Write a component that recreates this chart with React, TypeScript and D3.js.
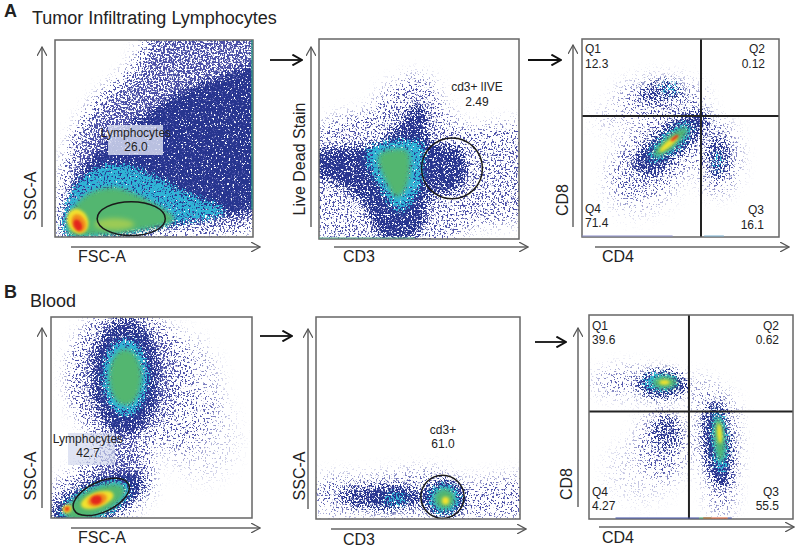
import React from "react";
import * as d3 from "d3";

type Blob = { e?: number[]; p?: number[][]; d?: number };
const E = (cx: number, cy: number, rx: number, ry: number, a = 0, d = 1): Blob => ({ e: [cx, cy, rx, ry, a], d });
const P = (p: number[][], d = 1): Blob => ({ p, d });

// Gated populations in percent of each axis (x, y).
const a1Sparse = [P([[5, 0], [6, 30], [12, 52], [24, 70], [40, 84], [52, 104], [104, 104], [104, 10], [60, 3]], 0.7)];
const a1Blue = [P([[6, 2], [8, 20], [15, 36], [28, 49], [42, 60], [60, 72], [80, 80], [104, 86], [104, 17], [75, 10], [40, 3]], 1)];
const a1Cyan = [P([[5, 2], [7, 19], [15, 31], [30, 37], [46, 33], [65, 23], [86, 13], [60, 7], [30, 1]], 0.95)];
const a1Green = [P([[7, 2], [9, 14], [17, 22], [30, 25], [46, 19], [60, 9], [40, 3], [20, 1]])];
const a1Lime = [E(30, 6.5, 10, 3, 0)];
const a1Yellow = [E(11.5, 8, 5.2, 6.5, 25)];
const a1Orange = [E(12, 7, 3.4, 4.8, 25)];
const a1Red = [E(11.5, 6, 2, 3, 25)];

const a2Sparse = [P([[-3, 50], [10, 60], [25, 62], [35, 75], [53, 80], [62, 65], [72, 55], [104, 55], [104, 12], [78, 8], [60, -2], [5, -2], [-3, 20]], 0.36)];
const a2Blue = [P([[-3, 43], [15, 46], [30, 48], [40, 58], [49, 68], [54, 63], [55, 50], [62, 47], [70, 46], [74, 35], [69, 24], [56, 22], [52, 6], [45, 0], [30, 2], [22, 18], [8, 28], [-3, 32]], 0.92)];
const a2Cyan = [P([[24, 44], [40, 49], [51, 48], [50, 26], [41, 14], [31, 25]])];
const a2Green = [P([[30, 42], [44, 44], [44, 27], [39, 21], [33, 30]])];

const a3Sparse = [E(40, 70, 22, 10, 0, 0.26), E(40, 44, 30, 15, 38, 0.3), E(32, 27, 20, 14, 30, 0.14), E(69, 40, 10, 18, 0, 0.32), E(20, 60, 14, 8, 0, 0.1)];
const a3Blue = [E(40, 73, 11, 6, 10, 0.56), E(45, 48, 23, 8, 38, 0.82), E(35, 37, 9, 7, 0, 0.5), E(69, 40, 5.5, 11, 0, 0.62)];
const a3Cyan = [E(45, 48, 14, 5, 40, 0.8), E(69, 38, 2.5, 5, 0, 0.5), E(44, 75, 5, 3, 0, 0.4)];
const a3Green = [E(45, 48, 11, 3, 40)];
const a3Yellow = [E(44, 47, 6, 1.5, 40)];
const a3Red = [E(47, 50, 2.4, 0.7, 40)];

const b1Sparse = [E(37, 70, 27, 33, 0, 0.5), E(62, 62, 22, 30, 0, 0.18), E(35, 28, 13, 18, 0, 0.48), E(24, 12, 27, 15, 25, 0.48), E(75, 40, 18, 22, 0, 0.09)];
const b1Blue = [E(37, 70, 17, 29, 0, 0.88), E(23, 9, 25, 9.5, 25)];
const b1Cyan = [E(37, 70, 11, 19, 0), E(22, 8, 19, 8, 25)];
const b1Green = [E(37, 70, 8, 14, 0), E(22, 8, 16, 6.5, 25)];
const b1Yellow = [E(23, 9, 8.5, 3.8, 20), E(8, 4.5, 2.4, 2, 30)];
const b1Orange = [E(23, 9, 5, 3, 20), E(8, 4.5, 1.5, 1.2, 30)];
const b1Red = [E(22.5, 9, 2.8, 2.2, 15), E(8, 4.5, 0.9, 0.8, 30)];

const b2Sparse = [P([[0, 18], [25, 20], [60, 23], [70, 18], [104, 19], [104, 3], [60, 1], [25, 3], [0, 5]], 0.3)];
const b2Blue = [E(32, 11, 21, 6, 0, 0.72), E(63, 10.5, 10.5, 8.8, 0), E(37, 11, 12, 5, 0, 0.95)];
const b2Cyan = [E(39, 10, 6, 3, 0, 0.7), E(63, 10, 7.5, 7, 0)];
const b2Green = [E(63, 10, 5, 5, 0)];
const b2Yellow = [E(63.5, 9, 1.8, 2, 0)];

const b3Sparse = [E(22, 67, 20, 6, 0, 0.3), E(60, 58, 15, 7, -40, 0.22), E(36, 37, 11, 17, 0, 0.3), E(26, 24, 18, 16, 0, 0.08), E(65, 15, 5, 14, 0, 0.36), E(63, 37, 9, 20, 5, 0.4)];
const b3Blue = [E(36, 66, 12, 6.5, 0, 0.92), E(38, 42, 7, 9, 0, 0.55), E(63, 36, 6.5, 21, 6, 0.92)];
const b3Cyan = [E(35, 67, 8, 4, 0), E(64, 38, 3.5, 15, 4)];
const b3Green = [E(37, 67, 6, 3, 0), E(64, 39, 2.4, 11, 4)];
const b3Yellow = [E(37, 67, 2.6, 1.3, 0), E(64, 42, 1.2, 5, 4)];

// Gates: [cx, cy, rx, ry, angle] in percent of the axes
const a1Gate = [38.5, 9.3, 17.2, 8.6, 0];
const a2Gate = [66.5, 35.3, 15.2, 15.2, 0];
const b1Gate = [25, 10.5, 15, 7.5, 25];
const b2Gate = [62, 11, 10.6, 10.7, 0];
// Quadrant dividers: [x, y] in percent
const a3Quad = [60.4, 61.1];
const b3Quad = [49, 52.7];

// Events piled on the plot edge: [from, to, colour] along the bottom or the right
const a2Strip = [[0, 48, "#5aa58a"]];
const a3Strip = [[0, 46, "#8a8dc8"], [62, 72, "#7ab0d0"]];
const b3Strip = [[13, 49, "#3a4aa0"], [49, 54, "#3a4aa0"], [54, 60, "#38a060"], [56, 68, "#d8562a"], [68, 70, "#3a4aa0"]];
const a1Edge = [[14, 100, "#2f8f86"]];

const panels = [
  { box: [55, 40, 253, 237], layers: { sparse: a1Sparse, blue: a1Blue, cyan: a1Cyan, green: a1Green, lime: a1Lime, yellow: a1Yellow, orange: a1Orange, red: a1Red }, gate: a1Gate, edge: a1Edge },
  { box: [319, 39, 519, 239], layers: { sparse: a2Sparse, blue: a2Blue, cyan: a2Cyan, green: a2Green }, gate: a2Gate, strip: a2Strip },
  { box: [582, 39, 779, 237], layers: { sparse: a3Sparse, blue: a3Blue, cyan: a3Cyan, green: a3Green, yellow: a3Yellow, red: a3Red }, quad: a3Quad, strip: a3Strip },
  { box: [51, 317, 252, 518], layers: { sparse: b1Sparse, blue: b1Blue, cyan: b1Cyan, green: b1Green, yellow: b1Yellow, orange: b1Orange, red: b1Red }, gate: b1Gate },
  { box: [316, 317, 520, 519], layers: { sparse: b2Sparse, blue: b2Blue, cyan: b2Cyan, green: b2Green, yellow: b2Yellow }, gate: b2Gate },
  { box: [589, 315, 793, 519], layers: { sparse: b3Sparse, blue: b3Blue, cyan: b3Cyan, green: b3Green, yellow: b3Yellow }, quad: b3Quad, strip: b3Strip },
];

const grayArrows = [
  [42, 227, 42, 47], [71, 247, 260, 247], [311, 227, 311, 47], [334, 247, 528, 247], [573, 227, 573, 45], [595, 247, 789, 247],
  [42, 508, 42, 328], [71, 528, 260, 528], [308, 509, 308, 329], [331, 529, 526, 529], [578, 507, 578, 328], [599, 527, 794, 527],
];
const blackArrows = [[270, 60, 302, 60], [528, 60, 561, 60], [260, 336, 292, 336], [535, 342, 566, 342]];

const axisLabels: [string, number, number, boolean][] = [
  ["FSC-A", 78, 262, false], ["CD3", 343, 262, false], ["CD4", 602, 262, false],
  ["FSC-A", 78, 543, false], ["CD3", 343, 545, false], ["CD4", 602, 543, false],
  ["SSC-A", 36, 196, true], ["Live Dead Stain", 305, 159, true], ["CD8", 568, 200, true],
  ["SSC-A", 36, 476, true], ["SSC-A", 305, 476, true], ["CD8", 572, 484, true],
];
const startLabels: [string, number, number][] = [
  ["Q1", 585, 53], ["12.3", 585, 68], ["Q4", 585, 213], ["71.4", 585, 227],
  ["Q1", 592, 330], ["39.6", 592, 344], ["Q4", 592, 496], ["4.27", 592, 510],
];
const endLabels: [string, number, number][] = [
  ["Q2", 765, 53], ["0.12", 765, 68], ["Q3", 764, 214], ["16.1", 764, 229],
  ["Q2", 779, 330], ["0.62", 779, 344], ["Q3", 779, 496], ["55.5", 779, 510],
];
const midLabels: [string, number, number][] = [
  ["Lymphocytes", 136, 137], ["26.0", 136, 151], ["cd3+ lIVE", 477, 91], ["2.49", 477, 106],
  ["Lymphocytes", 88, 443], ["42.7", 88, 457], ["cd3+", 443, 434], ["61.0", 443, 448],
];
const labelBoxes = [[108, 125, 55, 30, 0.85], [68, 433, 47, 32, 0.7]];

const colors: Record<string, string> = {
  sparse: "#4b50a8", blue: "#27358f", cyan: "#2fb4d6", green: "#52b670", lime: "#9ccb55", yellow: "#f2e22e", orange: "#f08a1e", red: "#e3261f",
};
const blurs: Record<string, number> = { sparse: 9, blue: 5, cyan: 3, green: 2.6, lime: 2.5, yellow: 1.8, orange: 1.4, red: 1.2 };
const stippled = ["sparse", "blue", "cyan"];
const FONT = "'Liberation Sans', Arial, sans-serif";

function Defs() {
  return (
    <defs>
      {Object.keys(colors).map((k, i) =>
        stippled.includes(k) ? (
          <filter key={k} id={`f-${k}`} filterUnits="userSpaceOnUse" x={0} y={0} width={800} height={549} colorInterpolationFilters="sRGB">
            <feGaussianBlur in="SourceAlpha" stdDeviation={blurs[k]} result="b" />
            <feTurbulence type="fractalNoise" baseFrequency={0.55} numOctaves={2} seed={3 + i * 7} result="t" />
            <feColorMatrix in="t" type="matrix" values={`0 0 0 0 0 0 0 0 0 0 0 0 0 0 0 3.2 0 0 0 -1.1`} result="n" />
            <feComposite in="b" in2="n" operator="arithmetic" k1={0} k2={1} k3={1} k4={-1} result="c" />
            <feComponentTransfer in="c" result="m">
              <feFuncA type="linear" slope={4} intercept={0} />
            </feComponentTransfer>
            <feFlood floodColor={colors[k]} result="fl" />
            <feComposite in="fl" in2="m" operator="in" result="col" />
            <feGaussianBlur in="col" stdDeviation={0.35} />
          </filter>
        ) : (
          <filter key={k} id={`f-${k}`} filterUnits="userSpaceOnUse" x={0} y={0} width={800} height={549}>
            <feGaussianBlur stdDeviation={blurs[k]} />
          </filter>
        )
      )}
      <marker id="openGray" viewBox="0 0 10 10" refX={9} refY={5} markerWidth={10} markerHeight={10} markerUnits="userSpaceOnUse" orient="auto">
        <path d="M0,0 L9,5 L0,10" fill="none" stroke="#555" strokeWidth={1.2} />
      </marker>
      <marker id="openBlack" viewBox="0 0 10 10" refX={9} refY={5} markerWidth={12} markerHeight={12} markerUnits="userSpaceOnUse" orient="auto">
        <path d="M1,0.5 L9,5 L1,9.5" fill="none" stroke="#111" strokeWidth={1.6} />
      </marker>
    </defs>
  );
}

function Panel({ p, idx }: { p: any; idx: number }) {
  const [x0, y0, x1, y1] = p.box;
  const x = d3.scaleLinear().domain([0, 100]).range([x0, x1]);
  const y = d3.scaleLinear().domain([0, 100]).range([y1, y0]);
  const line = d3.line<number[]>().x((d) => x(d[0])).y((d) => y(d[1])).curve(d3.curveCatmullRomClosed.alpha(0.5));
  const ell = (e: number[]) => ({
    cx: x(e[0]), cy: y(e[1]), rx: x(e[2]) - x(0), ry: y(0) - y(e[3]),
    transform: `rotate(${-e[4]} ${x(e[0])} ${y(e[1])})`,
  });
  return (
    <g>
      <clipPath id={`clip-${idx}`}>
        <rect x={x0} y={y0} width={x1 - x0} height={y1 - y0} />
      </clipPath>
      <g clipPath={`url(#clip-${idx})`}>
        {Object.entries(p.layers).map(([k, shapes]: any) => (
          <g key={k} filter={`url(#f-${k})`} fill={colors[k]}>
            {shapes.map((s: Blob, i: number) =>
              s.e ? <ellipse key={i} {...ell(s.e)} fillOpacity={s.d} /> : <path key={i} d={line(s.p!) || ""} fillOpacity={s.d} />
            )}
          </g>
        ))}
      </g>
      {p.gate && <ellipse {...ell(p.gate)} fill="none" stroke="#1a1a1a" strokeWidth={1.5} />}
      {p.quad && (
        <g stroke="#222" strokeWidth={2}>
          <line x1={x(p.quad[0])} x2={x(p.quad[0])} y1={y0} y2={y1} />
          <line x1={x0} x2={x1} y1={y(p.quad[1])} y2={y(p.quad[1])} />
        </g>
      )}
      <rect x={x0} y={y0} width={x1 - x0} height={y1 - y0} fill="none" stroke="#666" strokeWidth={1.5} />
      {(p.strip || []).map((s: any[], i: number) => (
        <line key={i} x1={x(s[0])} x2={x(s[1])} y1={y1 - 1} y2={y1 - 1} stroke={s[2]} strokeWidth={1} />
      ))}
      {(p.edge || []).map((s: any[], i: number) => (
        <line key={i} x1={x1 - 1} x2={x1 - 1} y1={y(s[0])} y2={y(s[1])} stroke={s[2]} strokeWidth={1.5} />
      ))}
    </g>
  );
}

export default function App() {
  return (
    <svg width={800} height={549} viewBox="0 0 800 549" style={{ position: "absolute", left: 0, top: 0, background: "#fff" }} fontFamily={FONT}>
      <Defs />
      {panels.map((p, i) => <Panel key={i} p={p} idx={i} />)}
      {labelBoxes.map((b, i) => (
        <rect key={i} x={b[0]} y={b[1]} width={b[2]} height={b[3]} fill="#d3d8ee" fillOpacity={b[4]} />
      ))}
      {grayArrows.map((a, i) => (
        <line key={i} x1={a[0]} y1={a[1]} x2={a[2]} y2={a[3]} stroke="#666" strokeWidth={1.5} markerEnd="url(#openGray)" />
      ))}
      {blackArrows.map((a, i) => (
        <line key={i} x1={a[0]} y1={a[1]} x2={a[2]} y2={a[3]} stroke="#111" strokeWidth={1.8} markerEnd="url(#openBlack)" />
      ))}
      <text x={4} y={17} fontSize={18} fontWeight="bold" fill="#222">A</text>
      <text x={32} y={24} fontSize={18} fill="#222">Tumor Infiltrating Lymphocytes</text>
      <text x={4} y={298} fontSize={18} fontWeight="bold" fill="#222">B</text>
      <text x={30} y={307} fontSize={18} fill="#222">Blood</text>
      {axisLabels.map(([t, x, y, rot], i) => (
        <text key={i} x={rot ? 0 : x} y={rot ? 0 : y} fontSize={16} fill="#222" textAnchor={rot ? "middle" : "start"}
          transform={rot ? `translate(${x} ${y}) rotate(-90)` : undefined}>{t}</text>
      ))}
      {startLabels.map(([t, x, y], i) => <text key={i} x={x} y={y} fontSize={12} fill="#222">{t}</text>)}
      {endLabels.map(([t, x, y], i) => <text key={i} x={x} y={y} fontSize={12} fill="#222" textAnchor="end">{t}</text>)}
      {midLabels.map(([t, x, y], i) => <text key={i} x={x} y={y} fontSize={12} fill="#222" textAnchor="middle">{t}</text>)}
    </svg>
  );
}
